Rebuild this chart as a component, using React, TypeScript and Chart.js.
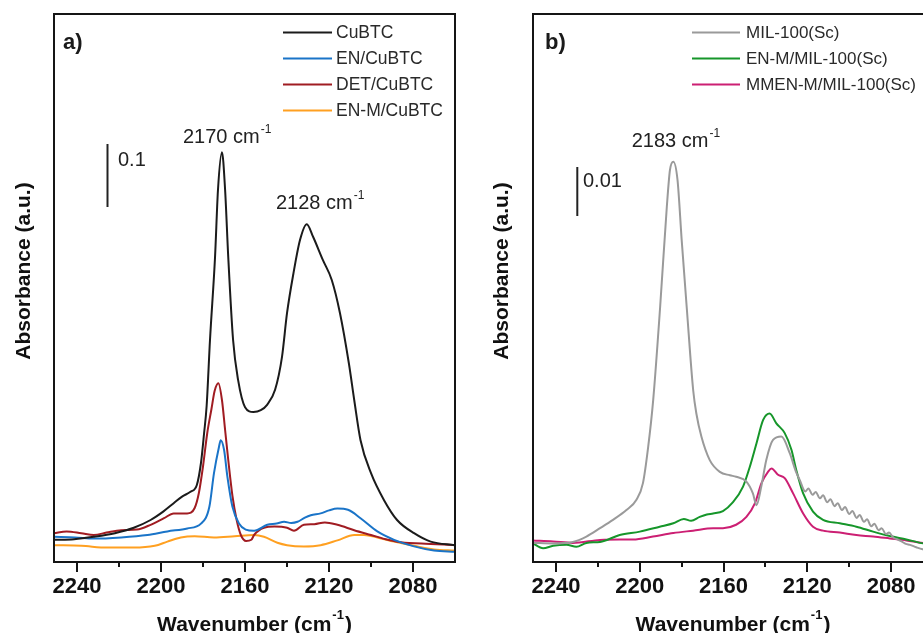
import React, { useEffect, useRef } from 'react';
import { Chart, registerables } from 'chart.js';
Chart.register(...registerables);

const FONT = '"Liberation Sans", Arial, Helvetica, sans-serif';

// ---------- axis ticks ----------
const majorTicks = [2240, 2200, 2160, 2120, 2080];
const minorTicks = [2220, 2180, 2140, 2100];

// ---------- panel a) ----------
const cubtcWn = [2251, 2241.4, 2232, 2222, 2213, 2205, 2199, 2194, 2190, 2186, 2183, 2181, 2179.5, 2178.3, 2176.7, 2174.3, 2172.9, 2171, 2169.5, 2168, 2165.7, 2163.3, 2160, 2156, 2152.5, 2149.5, 2145.7, 2142.4, 2140, 2137, 2133.8, 2130.6, 2127.6, 2122.9, 2118.7, 2114.8, 2110.5, 2108, 2105, 2100, 2093.8, 2087.6, 2079.5, 2071.6, 2060];
const cubtcAbs = [0.037, 0.038, 0.042, 0.048, 0.057, 0.07, 0.084, 0.098, 0.109, 0.117, 0.128, 0.165, 0.215, 0.26, 0.37, 0.508, 0.62, 0.683, 0.62, 0.508, 0.37, 0.303, 0.258, 0.25, 0.253, 0.262, 0.287, 0.342, 0.415, 0.48, 0.537, 0.563, 0.542, 0.503, 0.47, 0.415, 0.33, 0.27, 0.203, 0.148, 0.103, 0.07, 0.048, 0.034, 0.028];

const enWn = [2251, 2241, 2232, 2219, 2206.5, 2197, 2187.5, 2181, 2177, 2174.8, 2172.4, 2171.6, 2170, 2168.4, 2166, 2162.9, 2159.7, 2155.7, 2149.4, 2145, 2141.4, 2138, 2135, 2131.5, 2128.7, 2124, 2120, 2116, 2111, 2105, 2097, 2089, 2079.5, 2070, 2060];
const enAbs = [0.042, 0.041, 0.039, 0.041, 0.045, 0.051, 0.056, 0.064, 0.092, 0.148, 0.192, 0.203, 0.187, 0.142, 0.092, 0.064, 0.054, 0.052, 0.062, 0.064, 0.067, 0.065, 0.067, 0.074, 0.078, 0.081, 0.086, 0.089, 0.087, 0.073, 0.051, 0.037, 0.026, 0.019, 0.017];

const detWn = [2251, 2245, 2238, 2232, 2226, 2219, 2211.5, 2205, 2198.6, 2194, 2187.6, 2184, 2182, 2180, 2178, 2176, 2174.5, 2172.7, 2171, 2169.5, 2168, 2166, 2164, 2162, 2159.5, 2157, 2155.7, 2151, 2146, 2140, 2136.7, 2132, 2127, 2122, 2116, 2108, 2100, 2092, 2084, 2076, 2060];
const detAbs = [0.048, 0.051, 0.048, 0.045, 0.049, 0.053, 0.054, 0.062, 0.073, 0.081, 0.081, 0.09, 0.115, 0.16, 0.215, 0.255, 0.285, 0.298, 0.27, 0.22, 0.17, 0.11, 0.07, 0.045, 0.035, 0.037, 0.045, 0.057, 0.059, 0.057, 0.052, 0.062, 0.063, 0.066, 0.062, 0.053, 0.045, 0.037, 0.032, 0.031, 0.028];

const enmWn = [2251, 2238, 2225.6, 2213, 2203, 2197, 2190.6, 2184, 2174.8, 2165, 2155.7, 2151, 2144.6, 2140, 2132, 2124, 2116, 2108, 2103.3, 2097, 2089, 2079.5, 2070, 2060];
const enmAbs = [0.028, 0.027, 0.024, 0.024, 0.027, 0.034, 0.041, 0.043, 0.041, 0.043, 0.045, 0.042, 0.032, 0.028, 0.026, 0.028, 0.036, 0.045, 0.045, 0.041, 0.034, 0.027, 0.021, 0.019];

// ---------- panel b) ----------
const milWn = [2251, 2241.4, 2232, 2225.5, 2219, 2212.8, 2206.4, 2201.6, 2198.5, 2196, 2193.6, 2190.3, 2187.1, 2185.6, 2184, 2182, 2180, 2177.6, 2174.5, 2173, 2170.6, 2166.6, 2161.8, 2157, 2154, 2149.1, 2146, 2144.3, 2142, 2139.6, 2136.4, 2132.4, 2128.4, 2125.5, 2123.6, 2121, 2119.5, 2117.5, 2116, 2114, 2112.5, 2110.5, 2109, 2107, 2105.5, 2103.5, 2102, 2100, 2098.5, 2096.5, 2095, 2093, 2091.5, 2089.5, 2088, 2086, 2084.5, 2082.5, 2081, 2079, 2077, 2075, 2073, 2071, 2068, 2065, 2060];
const milAbs = [0.0039, 0.0038, 0.0041, 0.0052, 0.0069, 0.0086, 0.0106, 0.0127, 0.0161, 0.0235, 0.0331, 0.052, 0.0725, 0.08, 0.0817, 0.078, 0.0657, 0.052, 0.035, 0.0303, 0.0256, 0.0208, 0.0184, 0.0177, 0.0174, 0.0164, 0.014, 0.0116, 0.0154, 0.0208, 0.0249, 0.0256, 0.0222, 0.0185, 0.0167, 0.0144, 0.0150, 0.0137, 0.0143, 0.0130, 0.0136, 0.0122, 0.0128, 0.0114, 0.0120, 0.0106, 0.0112, 0.0098, 0.0104, 0.0090, 0.0096, 0.0082, 0.0087, 0.0073, 0.0078, 0.0065, 0.0069, 0.0057, 0.0060, 0.0050, 0.0046, 0.0042, 0.0037, 0.0035, 0.0030, 0.0026, 0.0024];

const enmMilWn = [2251, 2246.2, 2241.4, 2235, 2230.3, 2225.5, 2219, 2209.6, 2200, 2190.5, 2184, 2179, 2175.5, 2171.4, 2168, 2165, 2160.3, 2155.5, 2150.7, 2147.5, 2144.3, 2141.1, 2138, 2134.8, 2130.8, 2127.6, 2125.3, 2122, 2117.3, 2112.5, 2104.5, 2096.6, 2088.6, 2080.6, 2072.7, 2064.7, 2060];
const enmMilAbs = [0.0038, 0.0028, 0.0033, 0.0035, 0.0031, 0.0039, 0.0041, 0.0055, 0.0062, 0.0072, 0.0079, 0.0088, 0.0084, 0.0092, 0.0097, 0.0099, 0.0104, 0.0122, 0.0154, 0.0194, 0.0242, 0.029, 0.0303, 0.0283, 0.0263, 0.0229, 0.0188, 0.014, 0.0103, 0.0086, 0.0079, 0.0072, 0.0062, 0.0053, 0.0046, 0.0038, 0.0035];

const mmenWn = [2251, 2241.4, 2232, 2219, 2209.6, 2203.2, 2193.7, 2184, 2174.6, 2165, 2160.3, 2154, 2149.1, 2145, 2141.9, 2138.8, 2137.1, 2134, 2130.8, 2126.8, 2122, 2117.3, 2112.5, 2104.5, 2096.6, 2088.6, 2080.6, 2072.7, 2064.7, 2060];
const mmenAbs = [0.0044, 0.0042, 0.0039, 0.0045, 0.0046, 0.0046, 0.0052, 0.0059, 0.0064, 0.0069, 0.0069, 0.0076, 0.0092, 0.012, 0.0161, 0.0184, 0.0191, 0.0178, 0.0171, 0.014, 0.0099, 0.0072, 0.0064, 0.006, 0.0055, 0.0052, 0.0048, 0.0044, 0.0039, 0.0038];

const zip = (xs: number[], ys: number[]) => xs.map((x, i) => ({ x, y: ys[i] }));

const line = (label: string, color: string, wn: number[], abs: number[]) => ({
  label,
  data: zip(wn, abs),
  borderColor: color,
  backgroundColor: color,
  borderWidth: 2,
  pointRadius: 0,
  cubicInterpolationMode: 'monotone' as const,
  fill: false,
});

const panelA = {
  left: 0,
  width: 462,
  yMax: 0.9133,
  pad: { left: 54, right: 7, top: 14, bottom: 0 },
  datasets: [
    line('CuBTC', '#1b1b1b', cubtcWn, cubtcAbs),
    line('EN/CuBTC', '#1a74c8', enWn, enAbs),
    line('DET/CuBTC', '#a01c22', detWn, detAbs),
    line('EN-M/CuBTC', '#ffa021', enmWn, enmAbs),
  ],
  ann: {
    tag: 'a)', tagX: 63, tagY: 49,
    bar: { x: 107.5, y1: 144, y2: 207, label: '0.1', lx: 118, ly: 166 },
    peaks: [
      { text: '2170 cm', x: 183, y: 143 },
      { text: '2128 cm', x: 276, y: 209 },
    ],
    legend: { x1: 283, x2: 332, tx: 336, ys: [32.5, 58.5, 84.5, 110.5], font: 17.5 },
    yTitleX: 24,
  },
};

const panelB = {
  left: 460,
  width: 480,
  yMax: 0.11184,
  pad: { left: 73, right: 7, top: 14, bottom: 0 },
  datasets: [
    line('MIL-100(Sc)', '#9a9a9a', milWn, milAbs),
    line('EN-M/MIL-100(Sc)', '#16962a', enmMilWn, enmMilAbs),
    line('MMEN-M/MIL-100(Sc)', '#cc1f73', mmenWn, mmenAbs),
  ],
  ann: {
    tag: 'b)', tagX: 85, tagY: 49,
    bar: { x: 117.3, y1: 167, y2: 216, label: '0.01', lx: 123, ly: 187 },
    peaks: [{ text: '2183 cm', x: 171.7, y: 147 }],
    legend: { x1: 232, x2: 280, tx: 286, ys: [32.5, 58.5, 84.5], font: 17 },
    yTitleX: 42,
  },
};

function drawSup(ctx: CanvasRenderingContext2D, x: number, y: number, main: string, sup: string, mainFont: string, supFont: string, supRise: number, tail = '') {
  ctx.textAlign = 'left';
  ctx.textBaseline = 'alphabetic';
  ctx.font = mainFont;
  ctx.fillText(main, x, y);
  let cx = x + ctx.measureText(main).width + 1;
  ctx.font = supFont;
  ctx.fillText(sup, cx, y - supRise);
  cx += ctx.measureText(sup).width + 1;
  if (tail) {
    ctx.font = mainFont;
    ctx.fillText(tail, cx, y);
  }
}

function supWidth(ctx: CanvasRenderingContext2D, main: string, sup: string, mainFont: string, supFont: string, tail = '') {
  ctx.font = mainFont;
  let w = ctx.measureText(main).width + ctx.measureText(tail).width + 2;
  ctx.font = supFont;
  w += ctx.measureText(sup).width;
  return w;
}

function Panel({ cfg }: { cfg: typeof panelA }) {
  const ref = useRef<HTMLCanvasElement | null>(null);
  useEffect(() => {
    const canvas = ref.current!;
    const a = cfg.ann;
    const decor = {
      id: 'decor',
      afterDraw(chart: any) {
        const { ctx, chartArea: ca, scales } = chart;
        const xs = scales.x;
        ctx.save();
        // frame
        ctx.strokeStyle = '#151515';
        ctx.lineWidth = 2;
        ctx.strokeRect(ca.left, ca.top, ca.right - ca.left, ca.bottom - ca.top);
        // ticks (outward)
        ctx.lineWidth = 2;
        majorTicks.forEach((v) => {
          const px = Math.round(xs.getPixelForValue(v));
          ctx.beginPath();
          ctx.moveTo(px, ca.bottom);
          ctx.lineTo(px, ca.bottom + 10);
          ctx.stroke();
        });
        minorTicks.forEach((v) => {
          const px = Math.round(xs.getPixelForValue(v));
          ctx.beginPath();
          ctx.moveTo(px, ca.bottom);
          ctx.lineTo(px, ca.bottom + 5);
          ctx.stroke();
        });
        ctx.fillStyle = '#1a1a1a';
        // panel tag
        ctx.font = `bold 22px ${FONT}`;
        ctx.textAlign = 'left';
        ctx.textBaseline = 'alphabetic';
        ctx.fillText(a.tag, a.tagX, a.tagY);
        // scale bar
        ctx.strokeStyle = '#222';
        ctx.lineWidth = 2;
        ctx.beginPath();
        ctx.moveTo(a.bar.x, a.bar.y1);
        ctx.lineTo(a.bar.x, a.bar.y2);
        ctx.stroke();
        ctx.fillStyle = '#222';
        ctx.font = `20px ${FONT}`;
        ctx.fillText(a.bar.label, a.bar.lx, a.bar.ly);
        // peak labels
        a.peaks.forEach((p) => {
          drawSup(ctx, p.x, p.y, p.text, '-1', `20px ${FONT}`, `12px ${FONT}`, 10);
        });
        // legend
        chart.data.datasets.forEach((ds: any, i: number) => {
          const y = a.legend.ys[i];
          ctx.strokeStyle = ds.borderColor;
          ctx.lineWidth = 2;
          ctx.beginPath();
          ctx.moveTo(a.legend.x1, y);
          ctx.lineTo(a.legend.x2, y);
          ctx.stroke();
          ctx.fillStyle = '#2a2a2a';
          ctx.font = `${a.legend.font}px ${FONT}`;
          ctx.textBaseline = 'middle';
          ctx.fillText(ds.label, a.legend.tx, y + 1);
        });
        // y title
        ctx.fillStyle = '#111';
        ctx.save();
        ctx.translate(a.yTitleX, 271);
        ctx.rotate(-Math.PI / 2);
        ctx.font = `bold 21px ${FONT}`;
        ctx.textAlign = 'center';
        ctx.textBaseline = 'middle';
        ctx.fillText('Absorbance (a.u.)', 0, 0);
        ctx.restore();
        // x title
        const mf = `bold 21px ${FONT}`;
        const sf = `bold 13px ${FONT}`;
        const w = supWidth(ctx, 'Wavenumber (cm', '-1', mf, sf, ')');
        const cx = (ca.left + ca.right) / 2;
        drawSup(ctx, cx - w / 2, 631, 'Wavenumber (cm', '-1', mf, sf, 12, ')');
        ctx.restore();
      },
    };
    const chart = new Chart(canvas, {
      type: 'line',
      data: { datasets: cfg.datasets as any },
      options: {
        animation: false,
        responsive: false,
        devicePixelRatio: 1,
        layout: { padding: cfg.pad },
        plugins: { legend: { display: false }, tooltip: { enabled: false } },
        scales: {
          x: {
            type: 'linear',
            reverse: true,
            min: 2060,
            max: 2251,
            border: { display: false },
            grid: { display: true, drawOnChartArea: false, color: 'rgba(0,0,0,0)', tickLength: 10 },
            ticks: {
              autoSkip: false,
              maxRotation: 0,
              padding: 2,
              color: '#111',
              font: { family: FONT, size: 22, weight: 'bold' },
              callback: (v: any) => String(v),
            },
            afterBuildTicks: (axis: any) => {
              axis.ticks = majorTicks.map((value) => ({ value }));
            },
            afterFit: (axis: any) => {
              axis.height = 71;
            },
          },
          y: { type: 'linear', display: false, min: 0, max: cfg.yMax },
        },
      },
      plugins: [decor],
    });
    return () => chart.destroy();
  }, []);
  return (
    <canvas
      ref={ref}
      width={cfg.width}
      height={633}
      style={{ position: 'absolute', left: cfg.left, top: 0, width: cfg.width, height: 633, display: 'block' }}
    />
  );
}

export default function App() {
  return (
    <div style={{ position: 'fixed', left: 0, top: 0, width: 923, height: 633, overflow: 'hidden', background: '#ffffff' }}>
      <Panel cfg={panelA} />
      <Panel cfg={panelB as any} />
    </div>
  );
}
